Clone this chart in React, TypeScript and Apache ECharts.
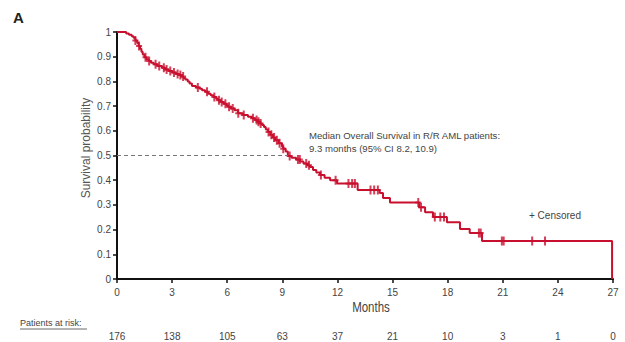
import React, { useEffect, useRef } from "react";
import * as echarts from "echarts";

// Kaplan-Meier event times (months) and survival after each event (paired by index)
const eventTimes = [
  0, 0.5, 0.65, 0.8, 0.9, 1.0, 1.1, 1.18, 1.25, 1.33,
  1.4, 1.5, 1.6, 1.73, 1.85, 2.0, 2.2, 2.45, 2.6, 2.81,
  3.0, 3.2, 3.36, 3.5, 3.62, 3.72, 3.85, 3.95, 4.08, 4.3,
  4.5, 4.63, 4.8, 4.95, 5.1, 5.25, 5.4, 5.5, 5.65, 5.8,
  5.95, 6.04, 6.2, 6.4, 6.59, 6.85, 7.13, 7.35, 7.51, 7.65,
  7.78, 7.89, 8.0, 8.1, 8.22, 8.35, 8.48, 8.6, 8.8, 8.98,
  9.05, 9.18, 9.3, 9.5, 9.75, 9.96, 10.15, 10.35, 10.5, 10.67,
  10.85, 11.05, 11.3, 11.6, 11.98, 13.1, 14.3, 14.48, 14.86, 16.45,
  16.77, 17.2, 17.96, 18.67, 19.2, 19.87, 26.95,
];
const survival = [
  1.0, 0.994, 0.989, 0.983, 0.977, 0.966, 0.955, 0.943, 0.932, 0.92,
  0.909, 0.898, 0.89, 0.883, 0.876, 0.869, 0.862, 0.855, 0.848, 0.842,
  0.836, 0.83, 0.826, 0.82, 0.814, 0.808, 0.8, 0.792, 0.781, 0.775,
  0.77, 0.764, 0.758, 0.75, 0.744, 0.737, 0.73, 0.724, 0.717, 0.71,
  0.703, 0.697, 0.69, 0.683, 0.671, 0.664, 0.657, 0.651, 0.644, 0.637,
  0.63, 0.623, 0.615, 0.605, 0.595, 0.584, 0.573, 0.562, 0.55, 0.536,
  0.527, 0.516, 0.498, 0.491, 0.484, 0.476, 0.468, 0.461, 0.453, 0.441,
  0.431, 0.421, 0.41, 0.4, 0.387, 0.36, 0.348, 0.328, 0.31, 0.29,
  0.27, 0.251, 0.23, 0.202, 0.186, 0.154, 0,
];
// Censored observation times (months)
const censoredTimes = [
  1.0, 1.2, 1.55, 1.75, 2.1, 2.3, 2.55, 2.7, 2.9, 3.1, 3.3, 3.45, 3.6, 4.4, 4.9,
  5.3, 5.55, 5.7, 5.9, 6.1, 6.3, 6.6, 6.9, 7.4, 7.6, 7.7, 7.82, 8.25, 8.4, 8.55,
  8.7, 8.85, 9.05, 9.4, 9.85, 9.95, 10.3, 10.45, 11.1, 11.9, 12.6, 12.8, 12.95,
  13.8, 14.0, 14.2, 16.4, 16.55, 17.3, 17.6, 17.8, 19.7, 19.8, 20.95, 21.05, 22.6,
  23.3,
];
const xTicks = [0, 3, 6, 9, 12, 15, 18, 21, 24, 27];
const atRisk = [176, 138, 105, 63, 37, 21, 10, 3, 1, 0];
const medianOS = 9.3;

const RED = "#c8102e";
const FONT = "'Liberation Sans', Arial, sans-serif";

function survAt(t: number): number {
  let s = 1;
  const n = Math.min(eventTimes.length, survival.length);
  for (let i = 0; i < n; i++) {
    if (eventTimes[i] <= t) s = survival[i];
    else break;
  }
  return s;
}

export default function App() {
  const ref = useRef<HTMLDivElement>(null);
  useEffect(() => {
    if (!ref.current) return;
    const chart = echarts.init(ref.current, undefined, { renderer: "svg" });
    const kmData = eventTimes.map((t, i) => [t, survival[i]]);
    const censData = censoredTimes.map((t) => [t, survAt(t)]);
    chart.setOption({
      animation: false,
      backgroundColor: "#fff",
      grid: [
        { left: 117, right: 12, top: 32, bottom: 63 },
        { left: 117, right: 12, top: 327, height: 1 },
      ],
      xAxis: [
        {
          type: "value",
          gridIndex: 0,
          min: xTicks[0],
          max: xTicks[xTicks.length - 1],
          interval: 3,
          axisLine: { show: true, lineStyle: { color: "#111", width: 2 } },
          axisTick: { show: true, length: 4, lineStyle: { color: "#111", width: 1.5 } },
          axisLabel: { color: "#444", fontSize: 10, fontFamily: FONT, margin: 8 },
          splitLine: { show: false },
        },
        {
          type: "value",
          gridIndex: 1,
          min: xTicks[0],
          max: xTicks[xTicks.length - 1],
          interval: 3,
          axisLine: { show: false },
          axisTick: { show: false },
          axisLabel: {
            color: "#444",
            fontSize: 10,
            fontFamily: FONT,
            margin: 3,
            formatter: (v: number) => {
              const i = xTicks.indexOf(v);
              return i >= 0 ? String(atRisk[i]) : "";
            },
          },
          splitLine: { show: false },
        },
      ],
      yAxis: [
        {
          type: "value",
          gridIndex: 0,
          min: 0,
          max: 1,
          interval: 0.1,
          axisLine: { show: true, lineStyle: { color: "#111", width: 2 } },
          axisTick: { show: true, length: 4, lineStyle: { color: "#111", width: 1.5 } },
          axisLabel: { color: "#444", fontSize: 10, fontFamily: FONT, margin: 6 },
          splitLine: { show: false },
        },
        {
          type: "value",
          gridIndex: 1,
          show: false,
        },
      ],
      series: [
        {
          type: "line",
          xAxisIndex: 0,
          yAxisIndex: 0,
          data: kmData,
          step: "end",
          symbol: "none",
          lineStyle: { color: RED, width: 2 },
          markLine: {
            silent: true,
            symbol: "none",
            label: { show: false },
            lineStyle: { color: "#777", type: [4, 3], width: 1 },
            data: [[{ coord: [0, 0.5] }, { coord: [medianOS, 0.5] }]],
          },
          z: 3,
        },
        {
          type: "scatter",
          xAxisIndex: 0,
          yAxisIndex: 0,
          data: censData,
          symbol: "path://M2,0H4V3.5H6V5.5H4V9H2V5.5H0V3.5H2Z",
          symbolSize: [6, 9],
          itemStyle: { color: RED },
          z: 4,
        },
      ],
      graphic: [
        {
          type: "text",
          left: 13,
          top: 10,
          style: { text: "A", font: `bold 15px ${FONT}`, fill: "#222" },
        },
        {
          type: "text",
          x: 86,
          y: 148,
          rotation: Math.PI / 2,
          style: {
            text: "Survival probability",
            font: `12px ${FONT}`,
            fill: "#555",
            align: "center",
            verticalAlign: "middle",
          },
        },
        {
          type: "text",
          x: 371,
          y: 307,
          scaleX: 0.82,
          style: {
            text: "Months",
            font: `14px ${FONT}`,
            fill: "#444",
            align: "center",
            verticalAlign: "middle",
          },
        },
        {
          type: "text",
          left: 309,
          top: 129,
          style: {
            text: "Median Overall Survival in R/R AML patients:\n9.3 months (95% CI 8.2, 10.9)",
            font: `9.6px ${FONT}`,
            fill: "#444",
            lineHeight: 13,
          },
        },
        {
          type: "text",
          left: 529,
          top: 210,
          style: { text: "+ Censored", font: `10px ${FONT}`, fill: "#444" },
        },
        {
          type: "text",
          left: 20,
          top: 318,
          style: { text: "Patients at risk:", font: `9px ${FONT}`, fill: "#444" },
        },
        {
          type: "line",
          shape: { x1: 20, y1: 329, x2: 87, y2: 329 },
          style: { stroke: "#444", lineWidth: 0.8 },
        },
      ],
    });
    return () => chart.dispose();
  }, []);
  return (
    <div
      ref={ref}
      style={{ position: "fixed", left: 0, top: 0, width: 625, height: 342 }}
    />
  );
}
